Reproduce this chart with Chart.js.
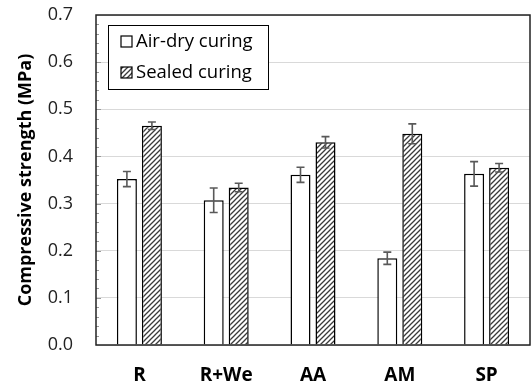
<!DOCTYPE html>
<html>
<head>
<meta charset="utf-8">
<script src="https://cdn.jsdelivr.net/npm/chart.js@4/dist/chart.umd.min.js"></script>
<style>
  body { margin: 0; background: #fff; }
</style>
</head>
<body>
<canvas id="strength-chart" width="531" height="384"></canvas>
<script>
const categories = ["R", "R+We", "AA", "AM", "SP"];
const airDry = [0.352, 0.307, 0.361, 0.184, 0.363];
const airDryErr = [0.016, 0.026, 0.016, 0.013, 0.026];
const sealed = [0.465, 0.334, 0.43, 0.448, 0.376];
const sealedErr = [0.008, 0.009, 0.012, 0.021, 0.009];
const seriesNames = ["Air-dry curing", "Sealed curing"];

const FONT = "'Open Sans', 'Noto Sans', sans-serif";

function makeHatch() {
  const c = document.createElement("canvas");
  c.width = 5;
  c.height = 5;
  const g = c.getContext("2d");
  g.fillStyle = "#fff";
  g.fillRect(0, 0, 5, 5);
  g.strokeStyle = "#3a3a3a";
  g.lineWidth = 1.3;
  g.beginPath();
  g.moveTo(-1, 6); g.lineTo(6, -1);
  g.moveTo(-1, 1); g.lineTo(1, -1);
  g.moveTo(4, 6); g.lineTo(6, 4);
  g.stroke();
  return g.createPattern(c, "repeat");
}
const hatch = makeHatch();

// error bars + frame + minor ticks + legend box
const extras = {
  id: "extras",
  afterDatasetsDraw(chart) {
    const ctx = chart.ctx;
    const y = chart.scales.y;
    const errs = [airDryErr, sealedErr];
    ctx.save();
    ctx.strokeStyle = "#595959";
    ctx.lineWidth = 1.6;
    chart.data.datasets.forEach((ds, di) => {
      chart.getDatasetMeta(di).data.forEach((bar, i) => {
        const v = ds.data[i];
        const top = y.getPixelForValue(v + errs[di][i]);
        const bot = y.getPixelForValue(v - errs[di][i]);
        ctx.beginPath();
        ctx.moveTo(bar.x, top); ctx.lineTo(bar.x, bot);
        ctx.moveTo(bar.x - 4, top); ctx.lineTo(bar.x + 4, top);
        ctx.moveTo(bar.x - 4, bot); ctx.lineTo(bar.x + 4, bot);
        ctx.stroke();
      });
    });
    ctx.restore();
  },
  afterDraw(chart) {
    const ctx = chart.ctx;
    const a = chart.chartArea;
    const y = chart.scales.y;
    ctx.save();
    // minor ticks
    ctx.strokeStyle = "#999";
    ctx.lineWidth = 1;
    for (let k = 1; k < 35; k++) {
      const py = Math.round(y.getPixelForValue(k * 0.02)) + 0.5;
      ctx.beginPath();
      ctx.moveTo(a.left, py);
      ctx.lineTo(a.left + (k % 5 === 0 ? 5 : 3), py);
      ctx.stroke();
    }
    // frame
    ctx.strokeStyle = "#222";
    ctx.lineWidth = 1.5;
    ctx.strokeRect(a.left, a.top, a.right - a.left, a.bottom - a.top);

    // legend
    const lx = 108, ly = 25;
    ctx.fillStyle = "#fff";
    ctx.fillRect(lx, ly, 160, 64);
    ctx.strokeStyle = "#000";
    ctx.lineWidth = 1;
    ctx.strokeRect(lx + 0.5, ly + 0.5, 160, 64);
    ctx.font = "18.5px " + FONT;
    ctx.textBaseline = "middle";
    seriesNames.forEach((name, i) => {
      const iy = 36 + i * 31;
      ctx.fillStyle = i === 0 ? "#fff" : hatch;
      ctx.fillRect(121, iy, 11, 11);
      ctx.strokeStyle = "#000";
      ctx.lineWidth = 1.2;
      ctx.strokeRect(121, iy, 11, 11);
      ctx.fillStyle = "#000";
      ctx.fillText(name, 136, iy + 6);
    });
    ctx.restore();
  }
};

new Chart(document.getElementById("strength-chart"), {
  type: "bar",
  data: {
    labels: categories,
    datasets: [
      {
        label: seriesNames[0],
        data: airDry,
        backgroundColor: "#fff",
        borderColor: "#000",
        borderWidth: 1.5,
        categoryPercentage: 0.576,
        barPercentage: 0.8,
      },
      {
        label: seriesNames[1],
        data: sealed,
        backgroundColor: hatch,
        borderColor: "#000",
        borderWidth: 1.5,
        categoryPercentage: 0.576,
        barPercentage: 0.8,
      },
    ],
  },
  options: {
    responsive: false,
    animation: false,
    layout: { padding: { top: 15, right: 1, left: 0, bottom: 0 } },
    plugins: { legend: { display: false }, tooltip: { enabled: false } },
    scales: {
      x: {
        grid: { display: false, drawTicks: false },
        border: { display: false },
        ticks: {
          padding: 19,
          color: "#000",
          font: { family: FONT, size: 19, weight: "bold" },
        },
        afterFit: (s) => { s.height = 39; s.paddingLeft = 0; s.paddingRight = 0; },
      },
      y: {
        min: 0,
        max: 0.7,
        grid: { color: "#d9d9d9", drawTicks: false },
        border: { display: false },
        ticks: {
          stepSize: 0.1,
          padding: 23,
          color: "#222",
          font: { family: FONT, size: 18 },
          callback: (v) => v.toFixed(1),
        },
        title: {
          display: true,
          text: "Compressive strength (MPa)",
          color: "#000",
          font: { family: FONT, size: 18, weight: "bold" },
          padding: { top: 15, bottom: 0 },
        },
        afterFit: (s) => { s.width = 96; s.paddingTop = 0; s.paddingBottom = 0; },
      },
    },
  },
  plugins: [extras],
});
</script>
</body>
</html>
